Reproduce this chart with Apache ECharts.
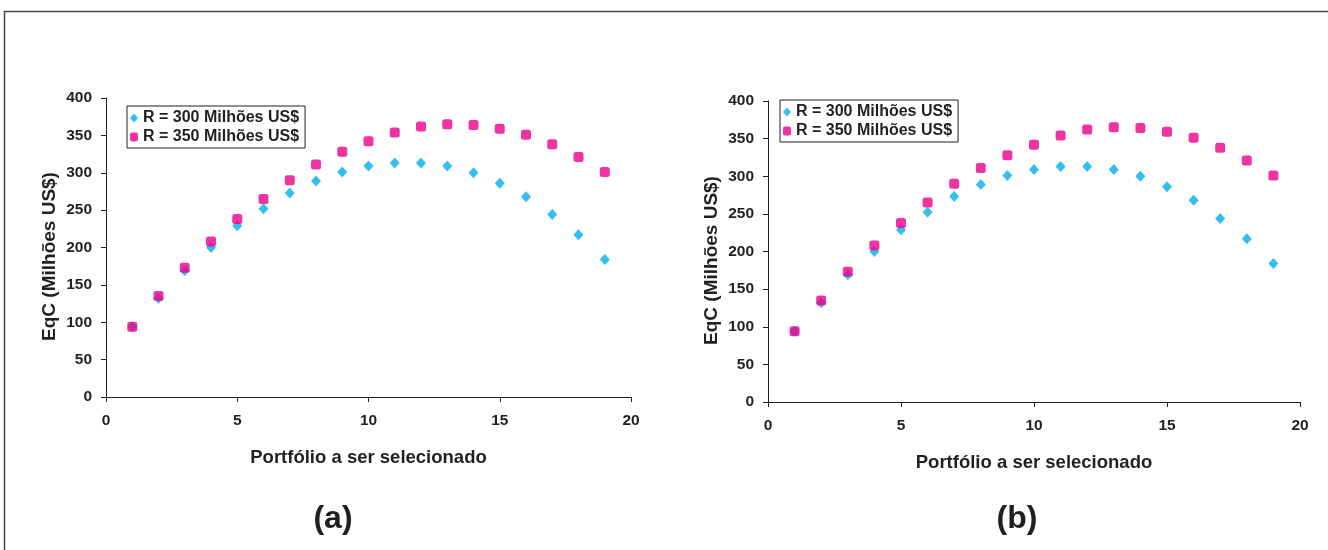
<!DOCTYPE html>
<html><head><meta charset="utf-8">
<script src="https://cdn.jsdelivr.net/npm/echarts@6/dist/echarts.min.js"></script>
<style>html,body{margin:0;padding:0;background:#fff}#c{width:1328px;height:550px}</style>
</head><body><div id="c"></div>
<script>
const portfolios = [1,2,3,4,5,6,7,8,9,10,11,12,13,14,15,16,17,18,19];
const r300 = [94,132,169,200,229,252,273,289,301,309,313,313,309,300,286,268,244,217,184];
const r350 = [94,135,173,208,238,265,290,311,328,342,354,362,365,364,359,351,338,321,301];
const seriesNames = ['R = 300 Milhões US$','R = 350 Milhões US$'];
const xTitle = 'Portfólio a ser selecionado';
const yTitle = 'EqC (Milhões US$)';
const panelLabels = ['(a)','(b)'];

const ink = '#231f20';
const blue = '#00aeef';
const pink = '#ec008c';
const font = 'Liberation Sans, Arial, sans-serif';

function pairs(vals){ return portfolios.map((p,i)=>[p, vals[i]]); }

const grids = [
  {left:106, top:98, width:525, height:299},
  {left:768, top:101, width:532, height:301}
];
function xAx(i){ return {type:'value', gridIndex:i, min:0, max:20, interval:5,
  name:xTitle, nameLocation:'middle', nameGap:51,
  nameTextStyle:{fontFamily:font, fontWeight:'bold', fontSize:18.5, color:ink},
  axisLine:{lineStyle:{color:ink, width:1}}, axisTick:{show:true, length:5, lineStyle:{color:ink}},
  axisLabel:{fontFamily:font, fontWeight:'bold', fontSize:15.5, color:ink, margin:16},
  splitLine:{show:false}}; }
function yAx(i){ return {type:'value', gridIndex:i, min:0, max:400, interval:50,
  name:yTitle, nameLocation:'middle', nameGap:47, nameRotate:90,
  nameTextStyle:{fontFamily:font, fontWeight:'bold', fontSize:19, color:ink, padding:[0,18,0,0]},
  axisLine:{show:true, lineStyle:{color:ink, width:1}}, axisTick:{show:true, length:5, lineStyle:{color:ink}},
  axisLabel:{fontFamily:font, fontWeight:'bold', fontSize:15.5, color:ink, margin:14},
  splitLine:{show:false}}; }
function ser(i, name, vals, color, symbol, size){
  return {type:'scatter', name:name, xAxisIndex:i, yAxisIndex:i, data:pairs(vals),
    symbol:symbol, symbolSize:size, itemStyle:{color:color}, silent:true};
}
function leg(left, top){ return {orient:'vertical', left:left, top:top,
  data:[{name:seriesNames[0], icon:'diamond'},{name:seriesNames[1], icon:'roundRect'}],
  itemWidth:8, itemHeight:9, itemGap:3, padding:[4,6,3,3],
  borderColor:ink, borderWidth:1, backgroundColor:'#fff',
  textStyle:{fontFamily:font, fontWeight:'bold', fontSize:16, color:ink},
  selectedMode:false}; }

const chart = echarts.init(document.getElementById('c'), null, {renderer:'canvas'});
chart.setOption({
  animation:false,
  backgroundColor:'#fff',
  grid:grids,
  xAxis:[xAx(0), xAx(1)],
  yAxis:[yAx(0), yAx(1)],
  legend:[leg(127,106), leg(780,100)],
  series:[
    ser(0, seriesNames[0], r300, blue, 'diamond', [10,11]),
    ser(0, seriesNames[1], r350, pink, 'roundRect', 10),
    ser(1, seriesNames[0], r300, blue, 'diamond', [10,11]),
    ser(1, seriesNames[1], r350, pink, 'roundRect', 10)
  ],
  graphic:[
    {type:'polyline', shape:{points:[[4.5,560],[4.5,11.5],[1340,11.5]]}, style:{stroke:'#444', lineWidth:1.5, fill:null}, silent:true},
    {type:'text', x:333, y:519, style:{text:panelLabels[0], fontFamily:'Liberation Sans Narrow, Arial Narrow, sans-serif', fontWeight:'bold', fontSize:32, fill:ink, align:'center', verticalAlign:'middle'}},
    {type:'text', x:1017, y:519, style:{text:panelLabels[1], fontFamily:'Liberation Sans Narrow, Arial Narrow, sans-serif', fontWeight:'bold', fontSize:32, fill:ink, align:'center', verticalAlign:'middle'}}
  ]
});
</script></body></html>
